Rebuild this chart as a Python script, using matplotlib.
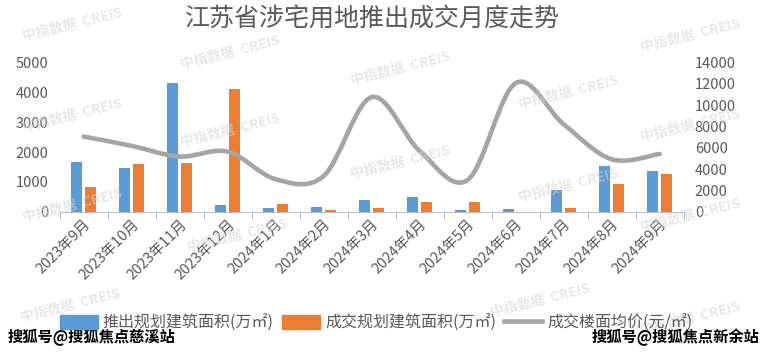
import matplotlib
matplotlib.use('Agg')
import matplotlib.pyplot as plt
from matplotlib.path import Path
from matplotlib.patches import PathPatch, Patch
from matplotlib.lines import Line2D
import numpy as np

# ---- data ----
months = ['2023年9月', '2023年10月', '2023年11月', '2023年12月', '2024年1月', '2024年2月',
          '2024年3月', '2024年4月', '2024年5月', '2024年6月', '2024年7月', '2024年8月', '2024年9月']
launch_area = [1658, 1477, 4329, 235, 124, 158, 393, 503, 57, 90, 728, 1534, 1366]
deal_area = [839, 1600, 1644, 4117, 268, 57, 134, 325, 325, 0, 124, 930, 1275]
deal_price = [7050, 6175, 5170, 5640, 3045, 3355, 10750, 5700, 2980, 12070, 8200, 4920, 5420]
left_ticks = [0, 1000, 2000, 3000, 4000, 5000]
right_ticks = [0, 2000, 4000, 6000, 8000, 10000, 12000, 14000]
legend_labels = ['推出规划建筑面积(万㎡)', '成交规划建筑面积(万㎡)', '成交楼面均价(元/㎡)']
title = '江苏省涉宅用地推出成交月度走势'

plt.rcParams['font.family'] = ['Noto Sans CJK SC', 'DejaVu Sans']
TXT = '#595959'
BLUE = '#5B9BD5'
ORANGE = '#ED7D31'
GRAY = '#A5A5A5'

W, H = 763, 353
fig = plt.figure(figsize=(W / 100, H / 100), dpi=100)

# faint watermarks
wm = [(72, 24), (72, 115), (72, 205), (230, 130), (237, 235), (230, 52), (400, 68), (400, 162),
      (568, 92), (568, 185), (690, 125), (690, 215), (690, 35), (70, 305), (540, 300), (690, 318)]
for (px, py) in wm:
    fig.text(px / W, 1 - py / H, '中指数据  CREIS', fontsize=10, fontweight='bold', color='#d6d6d6',
             alpha=0.55, rotation=14, ha='center', va='center', zorder=0)

ax = fig.add_axes([59.7 / W, 1 - 211.7 / H, 624 / W, 149.2 / H])
ax.patch.set_alpha(0)
x = np.arange(len(months))
ax.bar(x - 0.145, launch_area, width=0.22, color=BLUE, zorder=2)
ax.bar(x + 0.145, deal_area, width=0.22, color=ORANGE, zorder=2)
ax.set_xlim(-0.5, len(months) - 0.5)
ax.set_ylim(0, 5000)
ax.set_yticks(left_ticks)
ax.tick_params(axis='y', length=0, pad=8, labelsize=10.5, labelcolor=TXT)
ax.set_xticks(x)
ax.set_xticklabels(months, rotation=45, ha='right', va='top', rotation_mode='anchor',
                   fontsize=10.5, color=TXT)
ax.tick_params(axis='x', length=0, pad=4)
ax.set_xticks(np.arange(-0.5, len(months), 1.0), minor=True)
ax.tick_params(axis='x', which='minor', length=5, color='#BFBFBF', width=0.8)
for s in ['top', 'left', 'right']:
    ax.spines[s].set_visible(False)
ax.spines['bottom'].set_color('#BFBFBF')
ax.spines['bottom'].set_linewidth(0.8)

ax2 = ax.twinx()
ax2.set_ylim(0, 14000)
ax2.set_yticks(right_ticks)
ax2.tick_params(axis='y', length=0, pad=8, labelsize=10.5, labelcolor=TXT)
for s in ['top', 'left', 'right', 'bottom']:
    ax2.spines[s].set_visible(False)

# smoothed line (Excel-like Catmull-Rom Bezier through data points)
pts = np.column_stack([x, deal_price]).astype(float)
n = len(pts)
verts = [pts[0]]
codes = [Path.MOVETO]
for i in range(n - 1):
    p0 = pts[i - 1] if i > 0 else pts[i]
    p1 = pts[i]
    p2 = pts[i + 1]
    p3 = pts[i + 2] if i + 2 < n else pts[i + 1]
    c1 = p1 + (p2 - p0) / 6
    c2 = p2 - (p3 - p1) / 6
    verts += [c1, c2, p2]
    codes += [Path.CURVE4] * 3
ax2.add_patch(PathPatch(Path(verts, codes), fill=False, edgecolor=GRAY, lw=3.3,
                        capstyle='round', joinstyle='round', zorder=3))

fig.text(372 / W, 1 - 20 / H, title, fontsize=18, color=TXT, ha='center', va='center')

handles = [Patch(color=BLUE), Patch(color=ORANGE), Line2D([], [], color=GRAY, lw=3.3)]
fig.legend(handles, legend_labels, loc='center', bbox_to_anchor=(376 / W, 1 - 323 / H), ncol=3,
           frameon=False, fontsize=11.5, labelcolor=TXT, handlelength=2.4, handleheight=0.9,
           handletextpad=0.3, columnspacing=0.5)

fig.text(8 / W, 1 - 337 / H, '搜狐号@搜狐焦点慈溪站', fontsize=11, fontweight='bold', color='black',
         ha='left', va='center')
fig.text(760 / W, 1 - 337 / H, '搜狐号@搜狐焦点新余站', fontsize=11, fontweight='bold', color='black',
         ha='right', va='center')

fig.savefig('out.png', dpi=100)
